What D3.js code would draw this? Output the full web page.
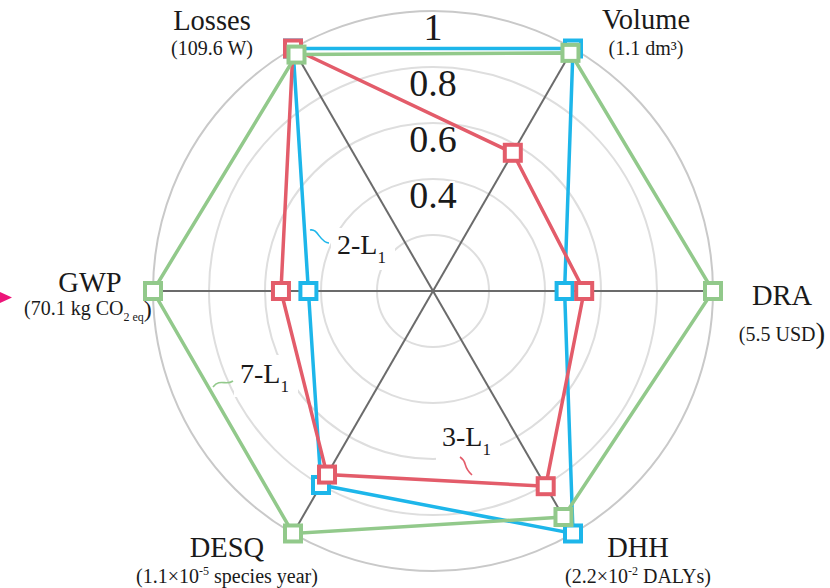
<!DOCTYPE html>
<html>
<head>
<meta charset="utf-8">
<script src="https://cdn.jsdelivr.net/npm/d3@7"></script>
<style>
  html, body { margin: 0; padding: 0; background: #fff; }
  svg text { font-family: "Liberation Serif", "DejaVu Serif", serif; }
</style>
</head>
<body>
<svg id="chart" width="830" height="588"></svg>
<script>
// Normalised indicators, one per radar axis (clockwise from upper-left)
const axes = ["Losses", "Volume", "DRA", "DHH", "DESQ", "GWP"];
const ringValues = [0.2, 0.4, 0.6, 0.8, 1.0];
const tickValues = [1, 0.8, 0.6, 0.4];
const tickLabels = ["1", "0.8", "0.6", "0.4"];

const seriesNames = ["2-L1", "3-L1", "7-L1"];
const values2L1 = [1.0, 1.0, 0.47, 1.0, 0.80, 0.445];
const values3L1 = [1.0, 0.57, 0.54, 0.805, 0.757, 0.543];
const values7L1 = [0.975, 0.982, 1.0, 0.932, 1.0, 1.0];

const seriesColors = ["#1db6ea", "#e35c6a", "#92c98b"];

const FONT = "Liberation Serif, DejaVu Serif, serif";
const svg = d3.select("#chart").attr("font-family", FONT);
const cx = 433, cy = 291, R = 280;

const r = d3.scaleLinear().domain([0, 1]).range([0, R]);
const angle = d3.scalePoint().domain(axes).range([-Math.PI / 6, -Math.PI / 6 + 5 * Math.PI / 3]);

const pos = (name, v) => {
  const a = angle(name);
  return [cx + r(v) * Math.sin(a), cy - r(v) * Math.cos(a)];
};

const g = svg.append("g");

// concentric grid rings
g.selectAll("circle.ring")
  .data(ringValues)
  .join("circle")
  .attr("class", "ring")
  .attr("cx", cx).attr("cy", cy)
  .attr("r", d => r(d))
  .attr("fill", "none")
  .attr("stroke", d => d === 1 ? "#c9c9c9" : "#dedede")
  .attr("stroke-width", 2);

// spokes
g.selectAll("line.spoke")
  .data(axes)
  .join("line")
  .attr("class", "spoke")
  .attr("x1", cx).attr("y1", cy)
  .attr("x2", d => pos(d, 1)[0])
  .attr("y2", d => pos(d, 1)[1])
  .attr("stroke", "#6b6b6b")
  .attr("stroke-width", 2);

// radial tick labels
g.selectAll("text.tick")
  .data(tickValues)
  .join("text")
  .attr("class", "tick")
  .attr("x", cx)
  .attr("y", d => cy - r(d) + 29)
  .attr("text-anchor", "middle")
  .attr("font-family", FONT)
  .attr("font-size", 38)
  .attr("fill", "#1a1a1a")
  .attr("stroke", "#fff").attr("stroke-width", 4).attr("paint-order", "stroke")
  .text((d, i) => tickLabels[i]);

// series name tags with white backing and a small wavy leader
const tags = [
  { name: seriesNames[0], color: seriesColors[0], x: 337, y: 254, box: [331, 228, 64, 42],
    leader: "M310,230 C318,228 320,243 329,243" },
  { name: seriesNames[1], color: seriesColors[1], x: 442, y: 446, box: [436, 418, 64, 42],
    leader: "M460,457 C468,462 462,466 472,475" },
  { name: seriesNames[2], color: seriesColors[2], x: 240, y: 383, box: [234, 355, 64, 42],
    leader: "M213,387 C220,378 226,386 233,381" }
];
const tagG = g.selectAll("g.tag").data(tags).join("g").attr("class", "tag");
tagG.append("rect")
  .attr("x", d => d.box[0]).attr("y", d => d.box[1])
  .attr("width", d => d.box[2]).attr("height", d => d.box[3])
  .attr("fill", "#fff");
tagG.append("path")
  .attr("d", d => d.leader)
  .attr("fill", "none")
  .attr("stroke", d => d.color)
  .attr("stroke-width", 1.6);
const tagText = tagG.append("text")
  .attr("x", d => d.x).attr("y", d => d.y)
  .attr("font-family", FONT)
  .attr("font-size", 28)
  .attr("fill", "#1a1a1a");
tagText.append("tspan").text(d => d.name.split("1")[0]);
tagText.append("tspan").attr("font-size", 17).attr("dy", 9).text("1");

// series polygons and square markers
const seriesData = [values2L1, values3L1, values7L1];
const radial = d3.lineRadial()
  .angle((d, i) => angle(axes[i]))
  .radius(d => r(d))
  .curve(d3.curveLinearClosed);

seriesData.forEach((vals, si) => {
  const sg = g.append("g");
  sg.append("path")
    .attr("transform", `translate(${cx},${cy})`)
    .attr("d", radial(vals))
    .attr("fill", "none")
    .attr("stroke", seriesColors[si])
    .attr("stroke-width", 3.5)
    .attr("stroke-linejoin", "miter");
  sg.selectAll("rect")
    .data(vals)
    .join("rect")
    .attr("x", (d, i) => pos(axes[i], d)[0] - 8)
    .attr("y", (d, i) => pos(axes[i], d)[1] - 8)
    .attr("width", 16).attr("height", 16)
    .attr("fill", "#fff")
    .attr("stroke", seriesColors[si])
    .attr("stroke-width", 4);
});

// axis titles with units
const titleColor = "#1a1a1a";
function title(x, y, name, y2, build) {
  svg.append("text").attr("x", x).attr("y", y)
    .attr("text-anchor", "middle").attr("font-family", FONT)
    .attr("font-size", 28.5).attr("fill", titleColor)
    .text(name);
  const t = svg.append("text").attr("x", x).attr("y", y2)
    .attr("text-anchor", "middle").attr("font-family", FONT)
    .attr("font-size", 20).attr("fill", titleColor);
  build(t);
}

title(212, 30, axes[0], 55, t => t.text("(109.6 W)"));
title(646, 29, axes[1], 55, t => t.text("(1.1 dm³)"));
title(782, 305, axes[2], 341, t => {
  t.append("tspan").text("(5.5 USD");
  t.append("tspan").attr("font-size", 29).attr("dy", 2).text(")");
});
title(638, 557, axes[3], 583, t => {
  t.append("tspan").text("(2.2×10");
  t.append("tspan").attr("font-size", 12).attr("dy", -8).text("-2");
  t.append("tspan").attr("dy", 8).text(" DALYs)");
});
title(227, 557, axes[4], 583, t => {
  t.append("tspan").text("(1.1×10");
  t.append("tspan").attr("font-size", 12).attr("dy", -8).text("-5");
  t.append("tspan").attr("dy", 8).text(" species year)");
});
title(90, 292, axes[5], 315, t => {
  t.attr("text-anchor", "start").attr("x", 24);
  t.append("tspan").text("(70.1 kg CO");
  t.append("tspan").attr("font-size", 12).attr("dy", 6).text("2 eq");
  t.append("tspan").attr("font-size", 24).attr("dy", -4).text(")");
});

// pointer on the left edge
svg.append("path")
  .attr("d", "M-2,291 L12,297.5 L-2,304 Z")
  .attr("fill", "#ec1579");
</script>
</body>
</html>
